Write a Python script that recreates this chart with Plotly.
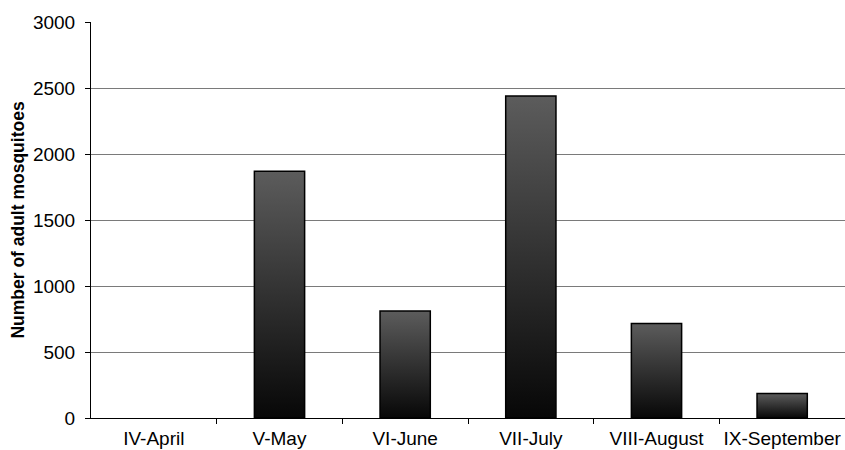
import plotly.graph_objects as go

months = ["IV-April", "V-May", "VI-June", "VII-July", "VIII-August", "IX-September"]
mosquitoes = [0, 1870, 810, 2440, 715, 185]
y_ticks = [0, 500, 1000, 1500, 2000, 2500, 3000]

half_w = 0.2
fig = go.Figure()
for i, (m, v) in enumerate(zip(months, mosquitoes)):
    if v <= 0:
        continue
    xs = [i - half_w, i + half_w, i + half_w, i - half_w, i - half_w]
    ys = [0, 0, v, v, 0]
    fig.add_trace(go.Scatter(
        x=xs, y=ys, mode="lines", fill="toself",
        line=dict(color="#000000", width=1.5),
        fillgradient=dict(type="vertical",
                          colorscale=[[0, "#070707"], [1, "#5c5c5c"]]),
        name=m, hoverinfo="text", text=f"{m}: {v}", showlegend=False,
    ))

fig.update_layout(
    width=845, height=450,
    margin=dict(l=91, r=0, t=22, b=32),
    paper_bgcolor="white", plot_bgcolor="white",
    font=dict(family="Liberation Sans, Arial, sans-serif", size=19, color="#000000"),
    showlegend=False,
)
fig.update_xaxes(
    range=[-0.5, len(months) - 0.5],
    tickmode="array", tickvals=list(range(len(months))), ticktext=months,
    ticks="", showgrid=False, zeroline=False,
    showline=True, linecolor="#000000", linewidth=1,
    minor=dict(tickmode="array", tickvals=[i + 0.5 for i in range(len(months) - 1)],
               ticks="outside", ticklen=5, tickcolor="#000000", showgrid=False),
    tickfont=dict(size=19),
    ticklabelstandoff=3,
)
fig.update_yaxes(
    range=[0, 3000],
    tickmode="array", tickvals=y_ticks,
    ticks="outside", ticklen=5, tickcolor="#000000",
    showgrid=True, gridcolor="#7a7a7a", gridwidth=1,
    zeroline=False,
    showline=True, linecolor="#000000", linewidth=1,
    tickfont=dict(size=19),
    ticklabelstandoff=6,
    title=dict(text="<b>Number of adult mosquitoes</b>", font=dict(size=17.5), standoff=3),
)

fig.write_html("out.html")
